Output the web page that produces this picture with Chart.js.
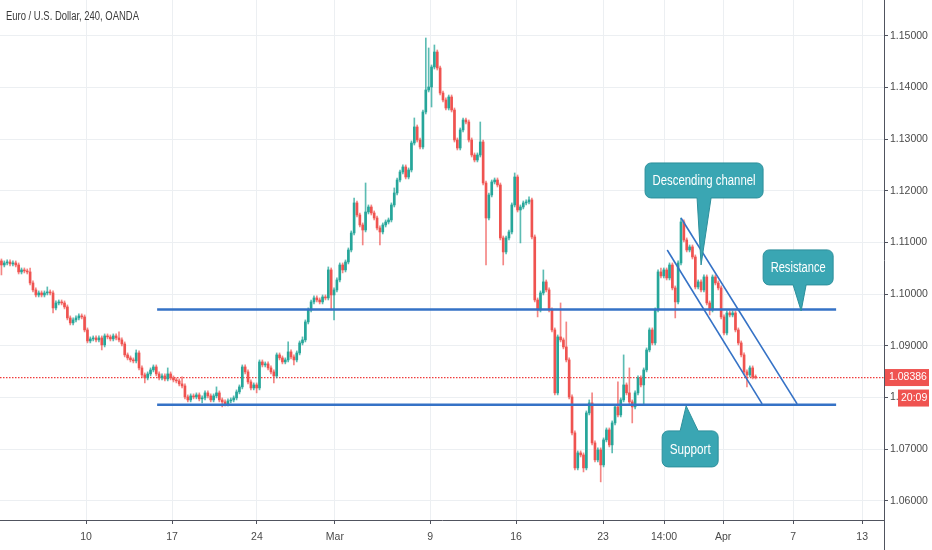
<!DOCTYPE html>
<html><head><meta charset="utf-8">
<script src="https://cdn.jsdelivr.net/npm/chart.js@4.4.1/dist/chart.umd.min.js"></script>
<style>html,body{margin:0;padding:0;background:#fff;overflow:hidden}#wrap{width:932px;height:550px;position:relative}</style>
</head><body><div id="wrap"><canvas id="c"></canvas></div>
<script>
// ---- DATA (EUR/USD 4H) ----
const opens = [
1.10642,1.10564,1.10603,1.10622,1.10584,1.10603,1.10564,1.10429,1.10468,1.10448,
1.10429,1.10216,1.10081,1.09984,1.10023,1.09984,1.10023,1.10042,1.10023,1.09733,
1.09829,1.09849,1.09829,1.09752,1.09539,1.09443,1.09501,1.09539,1.09578,1.09559,
1.09307,1.09094,1.09133,1.09152,1.09114,1.09152,1.09017,1.09191,1.09172,1.09133,
1.09191,1.09152,1.09114,1.09036,1.08824,1.08766,1.08727,1.08708,1.08862,1.08572,
1.08437,1.08379,1.08456,1.08533,1.08591,1.08456,1.08379,1.08417,1.08359,1.08456,
1.08379,1.08340,1.08321,1.08263,1.08224,1.08011,1.07953,1.08031,1.08011,1.08050,
1.07973,1.07992,1.08089,1.08031,1.07953,1.08031,1.08089,1.07953,1.07915,1.07876,
1.07934,1.07953,1.07992,1.08108,1.08205,1.08591,1.08495,1.08301,1.08185,1.08243,
1.08185,1.08688,1.08630,1.08650,1.08572,1.08495,1.08417,1.08824,1.08766,1.08688,
1.08727,1.08882,1.08785,1.08727,1.08862,1.09056,1.09114,1.09462,1.09694,1.09849,
1.09926,1.09887,1.09849,1.09945,1.09926,1.10468,1.09984,1.10081,1.10274,1.10564,
1.10468,1.10622,1.10854,1.11183,1.11764,1.11531,1.11338,1.11241,1.11589,1.11686,
1.11570,1.11473,1.11280,1.11203,1.11338,1.11396,1.11435,1.11725,1.11957,1.12208,
1.12363,1.12460,1.12266,1.12402,1.12924,1.13234,1.12982,1.12847,1.13524,1.13949,
1.14007,1.14394,1.14684,1.14375,1.13891,1.13756,1.13601,1.13814,1.13562,1.12982,
1.12827,1.13176,1.13369,1.13330,1.12982,1.12692,1.12595,1.12692,1.12943,1.12150,
1.11473,1.11918,1.12170,1.12208,1.12112,1.11087,1.10816,1.11087,1.11203,1.11725,
1.12266,1.11628,1.11686,1.11764,1.11783,1.11822,1.11106,1.09887,1.09694,1.10023,
1.10236,1.10081,1.09694,1.09307,1.08089,1.09172,1.09114,1.08978,1.08727,1.08011,
1.07315,1.06638,1.06928,1.06889,1.06638,1.07702,1.07895,1.07121,1.06793,1.06986,
1.06696,1.07180,1.07373,1.07083,1.07508,1.07818,1.07663,1.07953,1.08243,1.08089,
1.07915,1.07818,1.08089,1.08379,1.08243,1.08533,1.08920,1.09307,1.09056,1.09694,
1.10429,1.10352,1.10468,1.10313,1.10564,1.10120,1.09849,1.10603,1.11396,1.11048,
1.10854,1.10913,1.10719,1.10139,1.10236,1.10081,1.10332,1.09829,1.09694,1.10332,
1.10216,1.10120,1.09559,1.09249,1.09636,1.09597,1.09636,1.09307,1.09056,1.08824,
1.08495,1.08437,1.08572,1.08398];
const highs = [
1.10680,1.10642,1.10661,1.10661,1.10642,1.10642,1.10603,1.10506,1.10506,1.10487,
1.10506,1.10255,1.10120,1.10062,1.10062,1.10062,1.10139,1.10081,1.10062,1.09868,
1.09887,1.09887,1.09868,1.09791,1.09578,1.09539,1.09578,1.09617,1.09617,1.09597,
1.09346,1.09172,1.09191,1.09191,1.09191,1.09191,1.09230,1.09230,1.09210,1.09230,
1.09230,1.09269,1.09152,1.09075,1.08862,1.08804,1.08766,1.08920,1.08901,1.08611,
1.08475,1.08495,1.08572,1.08630,1.08630,1.08495,1.08456,1.08456,1.08572,1.08495,
1.08417,1.08379,1.08359,1.08398,1.08263,1.08050,1.08070,1.08070,1.08089,1.08089,
1.08031,1.08127,1.08127,1.08070,1.08070,1.08205,1.08127,1.07992,1.07953,1.07973,
1.07992,1.08031,1.08147,1.08243,1.08630,1.08630,1.08533,1.08340,1.08282,1.08282,
1.08727,1.08727,1.08688,1.08688,1.08611,1.08533,1.08862,1.08862,1.08804,1.08766,
1.09075,1.08920,1.08824,1.08901,1.09094,1.09172,1.09501,1.09733,1.09887,1.09965,
1.09965,1.09926,1.09984,1.09984,1.10526,1.10506,1.10120,1.10313,1.10603,1.10603,
1.10661,1.10893,1.11222,1.11860,1.11802,1.11570,1.11377,1.12150,1.11725,1.11725,
1.11609,1.11512,1.11319,1.11377,1.11435,1.11473,1.11764,1.12054,1.12247,1.12402,
1.12499,1.12499,1.12441,1.12963,1.13408,1.13272,1.13021,1.13562,1.14955,1.14762,
1.14433,1.14820,1.14723,1.14413,1.13930,1.13795,1.13852,1.13852,1.13601,1.13021,
1.13214,1.13408,1.13408,1.13369,1.13021,1.12731,1.12731,1.13330,1.12982,1.12189,
1.11957,1.12208,1.12247,1.12247,1.12150,1.11125,1.11125,1.11241,1.11764,1.12344,
1.12305,1.11725,1.11802,1.11822,1.11880,1.11860,1.11145,1.09926,1.10062,1.10468,
1.10274,1.10120,1.09733,1.09346,1.09210,1.09829,1.09152,1.09462,1.08766,1.08050,
1.07353,1.06967,1.06967,1.06928,1.07740,1.07953,1.08089,1.07160,1.07025,1.07025,
1.07218,1.07411,1.07411,1.07547,1.07856,1.08301,1.07992,1.08824,1.08282,1.08572,
1.07953,1.08127,1.08417,1.08417,1.08572,1.08959,1.09346,1.09346,1.09733,1.10468,
1.10506,1.10506,1.10506,1.10603,1.10603,1.10158,1.10642,1.11473,1.11435,1.11087,
1.10951,1.10951,1.10758,1.10274,1.10274,1.10371,1.10371,1.09868,1.10371,1.10371,
1.10255,1.10158,1.09597,1.09675,1.09675,1.09675,1.09675,1.09346,1.09094,1.08862,
1.08533,1.08611,1.08611,1.08437];
const lows = [
1.10371,1.10526,1.10564,1.10545,1.10545,1.10526,1.10390,1.10390,1.10410,1.10390,
1.10178,1.10042,1.09945,1.09945,1.09945,1.09945,1.09984,1.09984,1.09636,1.09694,
1.09791,1.09791,1.09714,1.09501,1.09404,1.09404,1.09462,1.09501,1.09520,1.09269,
1.09056,1.09056,1.09094,1.09075,1.09075,1.08920,1.08978,1.09133,1.09094,1.09094,
1.09114,1.09075,1.08998,1.08785,1.08727,1.08688,1.08669,1.08669,1.08533,1.08398,
1.08282,1.08340,1.08417,1.08495,1.08417,1.08340,1.08340,1.08321,1.08321,1.08340,
1.08301,1.08282,1.08224,1.08185,1.07973,1.07915,1.07915,1.07973,1.07973,1.07934,
1.07895,1.07953,1.07992,1.07915,1.07915,1.07992,1.07915,1.07818,1.07837,1.07837,
1.07895,1.07915,1.07953,1.08070,1.08166,1.08456,1.08263,1.08147,1.08147,1.08089,
1.08147,1.08591,1.08591,1.08533,1.08456,1.08282,1.08379,1.08727,1.08650,1.08650,
1.08688,1.08746,1.08630,1.08688,1.08824,1.09017,1.09075,1.09423,1.09655,1.09810,
1.09849,1.09810,1.09810,1.09887,1.09887,1.09694,1.09501,1.10042,1.10236,1.10410,
1.10429,1.10584,1.10816,1.11145,1.11493,1.11299,1.10951,1.11203,1.11551,1.11531,
1.11435,1.11241,1.10951,1.11164,1.11299,1.11357,1.11396,1.11686,1.11918,1.12170,
1.12325,1.12228,1.12228,1.12363,1.12885,1.12943,1.12808,1.12808,1.13485,1.13911,
1.13620,1.14355,1.14336,1.13852,1.13717,1.13562,1.13562,1.13524,1.12943,1.12789,
1.12789,1.13137,1.13292,1.12943,1.12653,1.12557,1.12557,1.12653,1.12112,1.10564,
1.11435,1.11880,1.12131,1.12073,1.11048,1.10564,1.10777,1.11048,1.11164,1.11686,
1.11589,1.10990,1.11648,1.11725,1.11744,1.11067,1.09849,1.09559,1.09655,1.09984,
1.10042,1.09655,1.09269,1.08050,1.08050,1.09075,1.08940,1.08688,1.07973,1.07276,
1.06599,1.06599,1.06850,1.06560,1.06599,1.07663,1.07083,1.06754,1.06754,1.06367,
1.06657,1.07141,1.07044,1.06928,1.07470,1.07624,1.07624,1.07915,1.08050,1.07876,
1.07508,1.07779,1.08050,1.08205,1.07856,1.08495,1.08882,1.09017,1.09017,1.09655,
1.10313,1.10313,1.10274,1.10274,1.10081,1.09539,1.09810,1.10564,1.11009,1.10816,
1.10816,1.10680,1.10100,1.10100,1.10042,1.10042,1.09791,1.09597,1.09655,1.10178,
1.10081,1.09520,1.09210,1.09210,1.09559,1.09559,1.09269,1.09017,1.08785,1.08456,
1.08205,1.08398,1.08359,1.08359];
const closes = [
1.10564,1.10603,1.10622,1.10584,1.10603,1.10564,1.10429,1.10468,1.10448,1.10429,
1.10216,1.10081,1.09984,1.10023,1.09984,1.10023,1.10042,1.10023,1.09733,1.09829,
1.09849,1.09829,1.09752,1.09539,1.09443,1.09501,1.09539,1.09578,1.09559,1.09307,
1.09094,1.09133,1.09152,1.09114,1.09152,1.09017,1.09191,1.09172,1.09133,1.09191,
1.09152,1.09114,1.09036,1.08824,1.08766,1.08727,1.08708,1.08862,1.08572,1.08437,
1.08379,1.08456,1.08533,1.08591,1.08456,1.08379,1.08417,1.08359,1.08456,1.08379,
1.08340,1.08321,1.08263,1.08224,1.08011,1.07953,1.08031,1.08011,1.08050,1.07973,
1.07992,1.08089,1.08031,1.07953,1.08031,1.08089,1.07953,1.07915,1.07876,1.07934,
1.07953,1.07992,1.08108,1.08205,1.08591,1.08495,1.08301,1.08185,1.08243,1.08185,
1.08688,1.08630,1.08650,1.08572,1.08495,1.08417,1.08824,1.08766,1.08688,1.08727,
1.08882,1.08785,1.08727,1.08862,1.09056,1.09114,1.09462,1.09694,1.09849,1.09926,
1.09887,1.09849,1.09945,1.09926,1.10468,1.09984,1.10081,1.10274,1.10564,1.10468,
1.10622,1.10854,1.11183,1.11764,1.11531,1.11338,1.11241,1.11589,1.11686,1.11570,
1.11473,1.11280,1.11203,1.11338,1.11396,1.11435,1.11725,1.11957,1.12208,1.12363,
1.12460,1.12266,1.12402,1.12924,1.13234,1.12982,1.12847,1.13524,1.13949,1.14007,
1.14394,1.14684,1.14375,1.13891,1.13756,1.13601,1.13814,1.13562,1.12982,1.12827,
1.13176,1.13369,1.13330,1.12982,1.12692,1.12595,1.12692,1.12943,1.12150,1.11473,
1.11918,1.12170,1.12208,1.12112,1.11087,1.10816,1.11087,1.11203,1.11725,1.12266,
1.11628,1.11686,1.11764,1.11783,1.11822,1.11106,1.09887,1.09694,1.10023,1.10236,
1.10081,1.09694,1.09307,1.08089,1.09172,1.09114,1.08978,1.08727,1.08011,1.07315,
1.06638,1.06928,1.06889,1.06638,1.07702,1.07895,1.07121,1.06793,1.06986,1.06696,
1.07180,1.07373,1.07083,1.07508,1.07818,1.07663,1.07953,1.08243,1.08089,1.07915,
1.07818,1.08089,1.08379,1.08243,1.08533,1.08920,1.09307,1.09056,1.09694,1.10429,
1.10352,1.10468,1.10313,1.10564,1.10120,1.09849,1.10603,1.11396,1.11048,1.10854,
1.10913,1.10719,1.10139,1.10236,1.10081,1.10332,1.09829,1.09694,1.10332,1.10216,
1.10120,1.09559,1.09249,1.09636,1.09597,1.09636,1.09307,1.09056,1.08824,1.08495,
1.08437,1.08572,1.08398,1.08386];

// axis ticks
const priceTicks = [1.06,1.07,1.08,1.09,1.10,1.11,1.12,1.13,1.14,1.15];
const timeTickPos = [29.5,59.5,89.1,116.3,149.5,179.5,209.8,231.1,251.7,276.1,300.2];
const timeTickLabels = ['10','17','24','Mar','9','16','23','14:00','Apr','7','13'];

// drawn levels (bar index, price)
const resistanceLine = [{x:54.3,y:1.0970},{x:291.1,y:1.0970}];
const supportLine    = [{x:54.3,y:1.0786},{x:291.1,y:1.0786}];
const channelUpper   = [{x:237.0,y:1.11473},{x:277.5,y:1.07876}];
const channelLower   = [{x:232.2,y:1.10854},{x:265.3,y:1.07876}];

// callout texts and the point each one targets (bar index, price)
const calloutTexts  = ['Descending channel','Resistance','Support'];
const calloutAnchor = [[244.0,1.10564],[278.9,1.09675],[238.8,1.07837]];

const titleText = 'Euro / U.S. Dollar, 240, OANDA';
const countdown = '20:09';

// ---- presentation ----
const GREEN = '#26a69a', RED = '#ef5350', BLUE = '#3572c6';
const narrowOK = (() => {
  const c = document.createElement('canvas').getContext('2d');
  c.font = '40px "Liberation Sans Narrow", monospace';
  const a = c.measureText('abcdefghij1234').width;
  c.font = '40px monospace';
  return Math.abs(a - c.measureText('abcdefghij1234').width) > 0.5;
})();
const AXIS_FONT = narrowOK ? {family:'"Liberation Sans Narrow", sans-serif', size:12}
                           : {family:'"Liberation Sans", sans-serif', size:10.5};

const idx = opens.map((_, i) => i);
const up = i => closes[i] >= opens[i];

const calloutGeom = [
  {box:[-56,-102,62,-67], base:[-4,10], w:103},
  {box:[-38,-61,32,-26], base:[-8,5], w:55},
  {box:[-24,25,32,61], base:[-6,12], w:41}
];

function drawCallout(ctx, tx, ty, g, text) {
  const [l0,t0,r0,b0] = g.box;
  const l = tx + l0, t = ty + t0, R = tx + r0, b = ty + b0, r = 6;
  const ba = tx + g.base[0], bb = tx + g.base[1];
  ctx.beginPath();
  ctx.moveTo(l + r, t);
  if (ty < t) { ctx.lineTo(ba, t); ctx.lineTo(tx, ty); ctx.lineTo(bb, t); }
  ctx.lineTo(R - r, t);
  ctx.arcTo(R, t, R, t + r, r);
  ctx.lineTo(R, b - r);
  ctx.arcTo(R, b, R - r, b, r);
  if (ty > b) { ctx.lineTo(bb, b); ctx.lineTo(tx, ty); ctx.lineTo(ba, b); }
  ctx.lineTo(l + r, b);
  ctx.arcTo(l, b, l, b - r, r);
  ctx.lineTo(l, t + r);
  ctx.arcTo(l, t, l + r, t, r);
  ctx.closePath();
  ctx.fillStyle = '#3aa6b3';
  ctx.fill();
  ctx.lineWidth = 1;
  ctx.strokeStyle = '#2c8f9b';
  ctx.stroke();
  ctx.save();
  ctx.font = '14px "Liberation Sans", sans-serif';
  const mw = ctx.measureText(text).width;
  ctx.translate((l + R) / 2, (t + b) / 2 + 1);
  ctx.scale(g.w / mw, 1);
  ctx.fillStyle = '#ffffff';
  ctx.textAlign = 'center';
  ctx.textBaseline = 'middle';
  ctx.fillText(text, 0, 0);
  ctx.restore();
}

const overlay = {
  id: 'overlay',
  afterDatasetsDraw(chart) {
    const ctx = chart.ctx, xs = chart.scales.x, ys = chart.scales.y;
    calloutTexts.forEach((t, k) => {
      const tx = xs.getPixelForValue(calloutAnchor[k][0]);
      const ty = ys.getPixelForValue(calloutAnchor[k][1]);
      drawCallout(ctx, tx, ty, calloutGeom[k], t);
    });
  },
  afterDraw(chart) {
    const ctx = chart.ctx, ys = chart.scales.y, area = chart.chartArea;
    ctx.save();
    ctx.font = '12.5px "Liberation Sans", sans-serif';
    const tw = ctx.measureText(titleText).width;
    ctx.save();
    ctx.translate(6, 17);
    ctx.scale(133 / tw, 1);
    ctx.fillStyle = '#3a3a3a';
    ctx.textBaseline = 'middle';
    ctx.fillText(titleText, 0, 0);
    ctx.restore();
    ctx.strokeStyle = '#50535e';
    ctx.lineWidth = 1;
    ctx.beginPath();
    ctx.moveTo(Math.round(area.right) + 0.5, area.bottom);
    ctx.lineTo(Math.round(area.right) + 0.5, chart.height);
    ctx.stroke();
    const last = closes[closes.length - 1];
    const py = ys.getPixelForValue(last);
    const x0 = area.right + 1;
    ctx.fillStyle = RED;
    ctx.fillRect(x0, py - 8.5, 44, 17);
    ctx.fillRect(x0 + 13, py + 12, 31, 17);
    ctx.fillStyle = '#ffffff';
    ctx.font = AXIS_FONT.size + 'px ' + AXIS_FONT.family;
    ctx.textBaseline = 'middle';
    ctx.textAlign = 'left';
    ctx.fillText(last.toFixed(5), x0 + 4, py);
    ctx.fillText(countdown, x0 + 16, py + 20.5);
    ctx.restore();
  }
};

new Chart(document.getElementById('c'), {
  type: 'bar',
  data: {
    datasets: [
      {type:'line', data: resistanceLine, borderColor: BLUE, borderWidth: 2.5, pointRadius: 0, order: 0},
      {type:'line', data: supportLine, borderColor: BLUE, borderWidth: 2.5, pointRadius: 0, order: 0},
      {type:'line', data: channelUpper, borderColor: BLUE, borderWidth: 1.6, pointRadius: 0, order: 0},
      {type:'line', data: channelLower, borderColor: BLUE, borderWidth: 1.6, pointRadius: 0, order: 0},
      {type:'bar', data: idx.map(i => ({x: i, y: [opens[i], closes[i]]})),
        backgroundColor: idx.map(i => up(i) ? GREEN : RED),
        barThickness: 2, minBarLength: 1, grouped: false, order: 2},
      {type:'bar', data: idx.map(i => ({x: i, y: [lows[i], highs[i]]})),
        backgroundColor: idx.map(i => up(i) ? 'rgba(38,166,154,0.75)' : 'rgba(239,83,80,0.7)'),
        barThickness: 1, grouped: false, order: 3},
      {type:'line', data: [{x:-0.5, y: closes[closes.length-1]}, {x:307.8, y: closes[closes.length-1]}],
        borderColor: '#f03c3c', borderWidth: 1.3, borderDash: [1.5, 1.5], pointRadius: 0, order: 4}
    ]
  },
  options: {
    responsive: true, maintainAspectRatio: false, animation: false, devicePixelRatio: 1,
    events: [],
    layout: {padding: 0},
    plugins: {legend: {display: false}, tooltip: {enabled: false}},
    scales: {
      x: {
        type: 'linear', min: -0.5, max: 307.8, offset: false,
        grid: {offset: false, color: '#eceff2', tickLength: 4, tickColor: '#50535e'},
        border: {display: true, color: '#50535e', width: 1},
        ticks: {autoSkip: false, maxRotation: 0, padding: 7, color: '#4a4a4a', font: AXIS_FONT,
          callback: (v, i) => timeTickLabels[i]},
        afterBuildTicks: s => { s.ticks = timeTickPos.map(v => ({value: v})); },
        afterFit: s => { s.height = 30; s.paddingLeft = 0; s.paddingRight = 0; }
      },
      y: {
        type: 'linear', position: 'right', min: 1.0563, max: 1.1569,
        grid: {color: '#eceff2', tickLength: 4, tickColor: '#50535e'},
        border: {display: true, color: '#50535e', width: 1},
        ticks: {padding: 2, color: '#4a4a4a', font: AXIS_FONT, callback: v => Number(v).toFixed(5)},
        afterBuildTicks: s => { s.ticks = priceTicks.map(v => ({value: v})); },
        afterFit: s => { s.width = 48; s.paddingTop = 0; s.paddingBottom = 0; }
      }
    }
  },
  plugins: [overlay]
});
</script></body></html>
